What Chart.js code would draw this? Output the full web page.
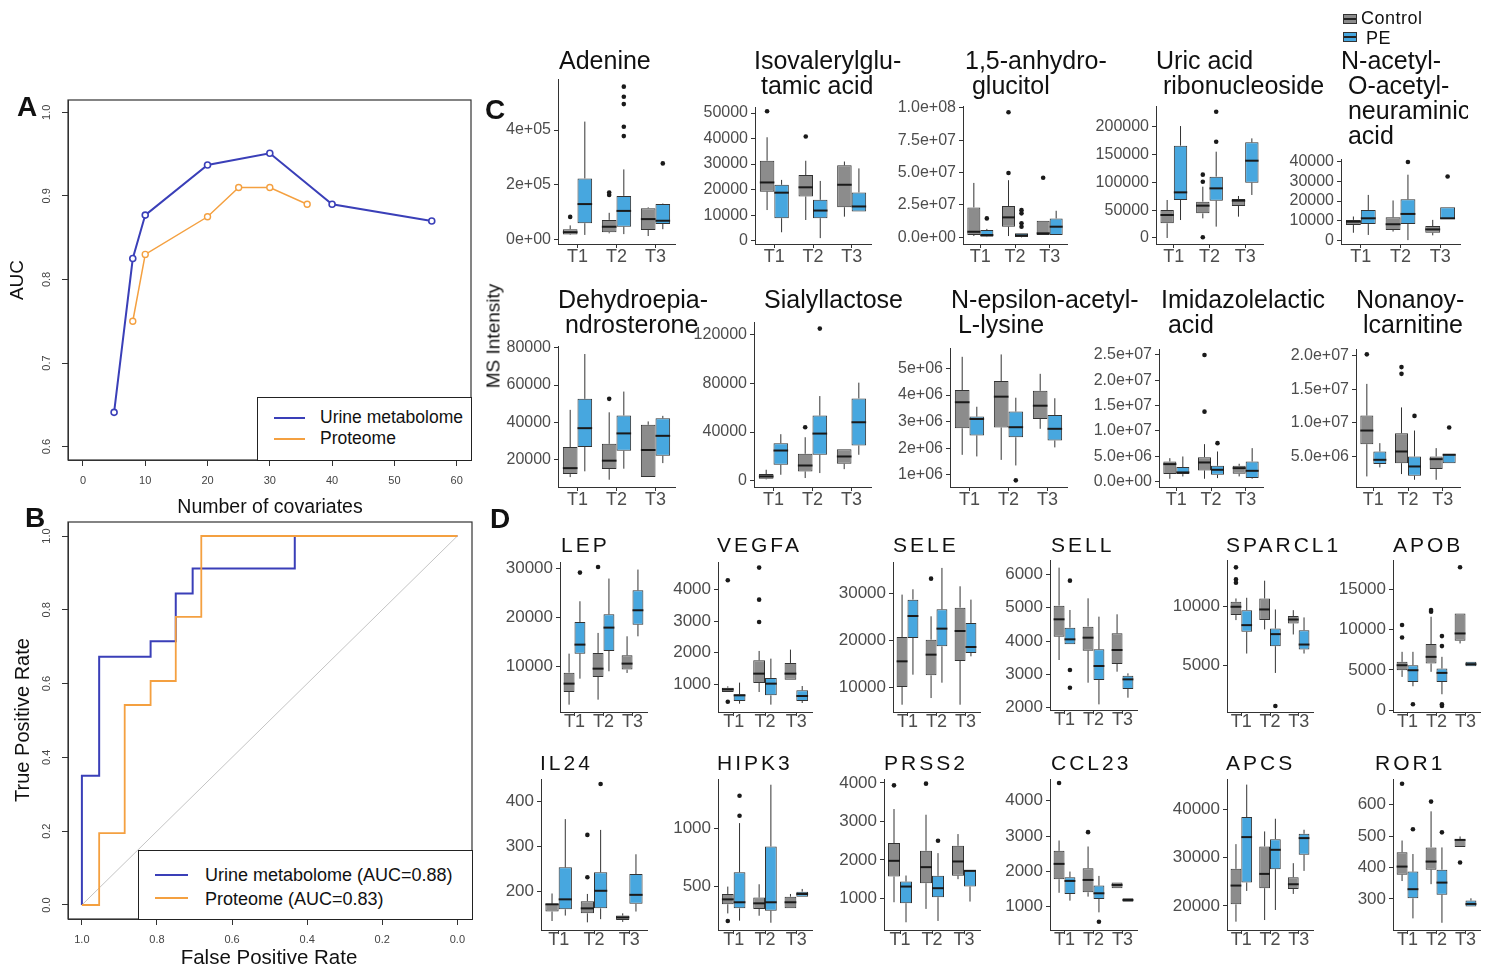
<!DOCTYPE html>
<html>
<head>
<meta charset="utf-8">
<title>AUC, ROC and MS intensity</title>
<script src="https://cdn.jsdelivr.net/npm/chart.js@4.4.1/dist/chart.umd.min.js"></script>
<style>
  html, body { margin: 0; padding: 0; background: #fff; }
  #stage { position: relative; width: 1488px; height: 969px; overflow: hidden; font-family: "Liberation Sans", Arial, sans-serif; color: #111; }
  .txt { position: absolute; white-space: pre; line-height: 1; }
  .tag { font-size: 28px; font-weight: bold; }
  .ctitle { font-size: 25px; line-height: 25px; }
  .dtitle { font-size: 21px; letter-spacing: 3px; }
  .rot { transform: translate(-50%, -50%) rotate(-90deg); }
  .legend { position: absolute; box-sizing: border-box; border: 1.3px solid #222; background: #fff; }
  .swatch { position: absolute; height: 2px; }
  .key { position: absolute; box-sizing: border-box; width: 14px; height: 10px; border: 1px solid #333; }
  .key::after { content: ""; position: absolute; left: 0; right: 0; top: 3px; height: 2px; background: #222; }
</style>
</head>
<body>
<div id="stage"></div>
<script>
// ---- panel A: AUC against number of covariates
const covariatesUrine = [5, 8, 10, 20, 30, 40, 56];
const aucUrine = [0.641, 0.825, 0.877, 0.937, 0.951, 0.890, 0.870];
const covariatesProteome = [8, 10, 20, 25, 30, 36];
const aucProteome = [0.750, 0.830, 0.875, 0.910, 0.910, 0.890];
const aTicksX = [0, 10, 20, 30, 40, 50, 60];
const aTicksY = [0.6, 0.7, 0.8, 0.9, 1.0];

// ---- panel B: ROC curves (x axis runs 1.0 -> 0.0)
const rocUrineX = [1.0, 1.0, 0.954, 0.954, 0.817, 0.817, 0.750, 0.750, 0.705, 0.705, 0.433, 0.433, 0.0];
const rocUrineY = [0.0, 0.350, 0.350, 0.673, 0.673, 0.715, 0.715, 0.844, 0.844, 0.912, 0.912, 1.0, 1.0];
const rocProteomeX = [1.0, 0.954, 0.954, 0.886, 0.886, 0.817, 0.817, 0.750, 0.750, 0.682, 0.682, 0.0];
const rocProteomeY = [0.0, 0.0, 0.195, 0.195, 0.542, 0.542, 0.607, 0.607, 0.781, 0.781, 1.0, 1.0];
const bTicks = [0, 0.2, 0.4, 0.6, 0.8, 1.0];

// ---- boxplots: each entry per time point is [lower whisker, Q1, median, Q3, upper whisker]
const timepoints = ['T1', 'T2', 'T3'];

const adenineCtrl = [[16000, 18000, 26000, 37000, 51000], [22000, 26000, 46000, 71000, 97000], [12000, 34000, 74000, 114000, 117000]];
const adenineCtrlOut = [[82000], [162000, 171000], []];
const adeninePE = [[16000, 59000, 129000, 223000, 431000], [19000, 46000, 104000, 159000, 256000], [37000, 56000, 68000, 129000, 131000]];
const adeninePEOut = [[], [378000, 412000, 495000, 522000, 559000], [278000]];
const adenineTicks = ['0e+00', '2e+05', '4e+05'];

const isovalCtrl = [[12000, 19200, 22800, 31300, 40500], [8100, 17300, 20900, 25700, 31300], [9400, 13100, 21900, 29500, 31000]];
const isovalCtrlOut = [[50700], [40800], []];
const isovalPE = [[3300, 8800, 18800, 21900, 23800], [1000, 8800, 11800, 16000, 23400], [11400, 11400, 13400, 18900, 28300]];
const isovalPEOut = [[], [], []];
const isovalTicks = ['0', '10000', '20000', '30000', '40000', '50000'];

const anhydroCtrl = [[1.0e6, 1.8e6, 4.3e6, 2.31e7, 4.2e7], [1.0e6, 8.2e6, 1.54e7, 2.41e7, 4.41e7], [1.8e6, 1.8e6, 3.1e6, 1.28e7, 1.28e7]];
const anhydroCtrlOut = [[], [4.97e7, 9.66e7], [4.6e7]];
const anhydroPE = [[2e5, 5e5, 1.8e6, 5.6e6, 6.5e6], [0, 3e5, 1.5e6, 3.1e6, 3.1e6], [1.8e6, 1.8e6, 8.2e6, 1.46e7, 2.05e7]];
const anhydroPEOut = [[1.46e7], [8.2e6, 1.08e7, 1.85e7, 2.1e7], []];
const anhydroTicks = ['0.0e+00', '2.5e+07', '5.0e+07', '7.5e+07', '1.0e+08'];

const uricCtrl = [[0, 26400, 41300, 50300, 68300], [35300, 44300, 58100, 65300, 92200], [38300, 57500, 67100, 70100, 75500]];
const uricCtrlOut = [[], [1200, 101200, 113800], []];
const uricPE = [[32300, 68300, 82000, 165900, 201200], [20400, 67100, 89200, 110200, 155100], [77300, 99400, 138900, 171900, 179000]];
const uricPEOut = [[], [173000, 227000], []];
const uricTicks = ['0', '50000', '100000', '150000', '200000'];

const neuCtrl = [[4000, 7900, 9600, 10500, 12200], [4600, 5400, 8300, 11800, 20300], [2700, 4000, 5700, 7400, 10500]];
const neuCtrlOut = [[], [], []];
const neuPE = [[2900, 8400, 11300, 15500, 23100], [300, 8400, 13500, 20900, 33300], [10800, 10800, 11300, 16900, 16900]];
const neuPEOut = [[], [39700], [32400]];
const neuTicks = ['0', '10000', '20000', '30000', '40000'];

const dheaCtrl = [[10700, 12300, 15500, 26800, 46700], [9300, 15000, 19500, 28500, 45400], [10700, 10700, 25200, 38700, 40500]];
const dheaCtrlOut = [[], [52600], []];
const dheaPE = [[13800, 26800, 36900, 52600, 76600], [15200, 24800, 34100, 43700, 56500], [18200, 22100, 32800, 42200, 43500]];
const dheaPEOut = [[], [], []];
const dheaTicks = ['20000', '40000', '60000', '80000'];

const sialylCtrl = [[1100, 1600, 3500, 5500, 9000], [2200, 7600, 12500, 22100, 35700], [9500, 13900, 19900, 25900, 25900]];
const sialylCtrlOut = [[], [43900], []];
const sialylPE = [[4900, 13100, 24800, 30800, 38200], [6300, 21300, 38700, 53500, 69500], [21300, 28900, 48000, 67600, 80500]];
const sialylPEOut = [[], [124900], []];
const sialylTicks = ['0', '40000', '80000', '120000'];

const lysineCtrl = [[1.75e6, 2.75e6, 3.73e6, 4.19e6, 5.44e6], [1.56e6, 2.78e6, 3.94e6, 4.53e6, 5.53e6], [2.73e6, 3.1e6, 3.6e6, 4.16e6, 4.8e6]];
const lysineCtrlOut = [[], [], []];
const lysinePE = [[1.69e6, 2.48e6, 3.1e6, 3.19e6, 3.56e6], [1.35e6, 2.41e6, 2.79e6, 3.38e6, 3.9e6], [2.03e6, 2.29e6, 2.73e6, 3.25e6, 3.88e6]];
const lysinePEOut = [[], [0.79e6], []];
const lysineTicks = ['1e+06', '2e+06', '3e+06', '4e+06', '5e+06'];

const imidCtrl = [[0.53e6, 1.45e6, 3.42e6, 3.95e6, 4.6e6], [0.53e6, 2.17e6, 3.75e6, 4.8e6, 7.37e6], [0.99e6, 1.51e6, 2.63e6, 3.09e6, 3.49e6]];
const imidCtrlOut = [[], [13.8e6, 25.0e6], []];
const imidPE = [[0.99e6, 1.45e6, 1.78e6, 2.83e6, 4.93e6], [0.66e6, 1.32e6, 2.3e6, 3.09e6, 5.92e6], [0.53e6, 0.66e6, 2.1e6, 3.95e6, 6.58e6]];
const imidPEOut = [[], [7.57e6], []];
const imidTicks = ['0.0e+00', '5.0e+06', '1.0e+07', '1.5e+07', '2.0e+07', '2.5e+07'];

const nonanoylCtrl = [[2.03e6, 6.83e6, 8.86e6, 11.09e6, 15.8e6], [2.38e6, 4.0e6, 5.74e6, 8.46e6, 12.3e6], [1.53e6, 3.12e6, 4.6e6, 5.0e6, 6.24e6]];
const nonanoylCtrlOut = [[20.2e6], [17.3e6, 18.3e6], []];
const nonanoylPE = [[3.37e6, 3.86e6, 4.5e6, 5.74e6, 6.98e6], [1.53e6, 2.13e6, 3.51e6, 5.0e6, 8.86e6], [4.0e6, 4.0e6, 5.25e6, 5.4e6, 5.4e6]];
const nonanoylPEOut = [[], [11.04e6], [9.3e6]];
const nonanoylTicks = ['5.0e+06', '1.0e+07', '1.5e+07', '2.0e+07'];

const lepCtrl = [[2150, 4740, 6450, 8700, 12590], [3170, 7810, 9520, 12730, 16830], [8640, 9320, 10550, 12250, 16140]];
const lepCtrlOut = [[], [30340], []];
const lepPE = [[7470, 12590, 14440, 19080, 23310], [8980, 13140, 17920, 20650, 27960], [16140, 18530, 21470, 25560, 29800]];
const lepPEOut = [[29180], [], []];
const lepTicks = ['10000', '20000', '30000'];

const vegfaCtrl = [[756, 756, 840, 893, 935], [756, 1042, 1338, 1761, 2057], [1148, 1148, 1338, 1676, 2099]];
const vegfaCtrlOut = [[450, 4295], [2975, 3682, 4696], []];
const vegfaPE = [[387, 472, 651, 683, 1053], [356, 651, 1021, 1201, 1813], [408, 472, 630, 810, 946]];
const vegfaPEOut = [[], [], []];
const vegfaTicks = ['1000', '2000', '3000', '4000'];

const seleCtrl = [[6210, 10000, 15500, 20710, 29790], [7640, 12500, 16930, 20140, 25140], [6210, 15570, 22000, 27000, 31570]];
const seleCtrlOut = [[], [33210], []];
const selePE = [[12640, 20500, 25210, 28710, 30930], [10930, 18710, 22500, 26640, 35500], [16570, 17290, 18570, 23710, 28710]];
const selePEOut = [[], [], []];
const seleTicks = ['10000', '20000', '30000'];

const sellCtrl = [[3430, 4130, 4650, 5060, 6200], [2750, 3710, 4100, 4430, 5280], [3080, 3310, 3730, 4230, 4800]];
const sellCtrlOut = [[], [], []];
const sellPE = [[3900, 3900, 4050, 4400, 4930], [2100, 2830, 3250, 3750, 4730], [2300, 2560, 2850, 2960, 3030]];
const sellPEOut = [[2600, 3130, 5810], [], []];
const sellTicks = ['2000', '3000', '4000', '5000', '6000'];

const sparclCtrl = [[8860, 9290, 10000, 10430, 10710], [8060, 8860, 9770, 10710, 12230], [7630, 8570, 8910, 9200, 9710]];
const sparclCtrlOut = [[12060, 12340, 13370], [], []];
const sparclPE = [[6000, 7860, 8430, 9710, 10770], [4340, 6630, 7660, 8140, 9770], [6000, 6340, 6770, 8000, 9090]];
const sparclPEOut = [[], [1510], []];
const sparclTicks = ['5000', '10000'];

const apobCtrl = [[4140, 4970, 5590, 6010, 7250], [4770, 5800, 6630, 8210, 11600], [8290, 8620, 9530, 12020, 12020]];
const apobCtrlOut = [[9030, 10570], [12220, 12430], [17740]];
const apobPE = [[2980, 3520, 4970, 5590, 7250], [1990, 3520, 4640, 5180, 6630], [5470, 5470, 5720, 6010, 6010]];
const apobPEOut = [[750], [540, 750, 7960, 9200], []];
const apobTicks = ['0', '5000', '10000', '15000'];

const il24Ctrl = [[135, 156, 172, 173, 196], [132, 152, 163, 179, 195], [133, 137, 143, 147, 152]];
const il24CtrlOut = [[], [232, 326], []];
const il24PE = [[147, 161, 183, 254, 361], [139, 163, 202, 243, 337], [156, 173, 193, 239, 283]];
const il24PEOut = [[], [439], []];
const il24Ticks = ['200', '300', '400'];

const hipk3Ctrl = [[271, 349, 391, 437, 500], [251, 309, 357, 406, 520], [314, 314, 366, 414, 437]];
const hipk3CtrlOut = [[206], [], []];
const hipk3PE = [[209, 314, 366, 623, 1043], [191, 294, 366, 843, 1371], [414, 414, 437, 457, 480]];
const hipk3PEOut = [[1106, 1277], [], []];
const hipk3Ticks = ['500', '1000'];

const prss2Ctrl = [[896, 1565, 1974, 2435, 3322], [722, 1391, 1809, 2235, 3174], [1496, 1583, 1957, 2365, 2670]];
const prss2CtrlOut = [[3939], [3983], []];
const prss2PE = [[374, 870, 1304, 1435, 1591], [409, 1026, 1261, 1583, 2174], [913, 1304, 1713, 1722, 1722]];
const prss2PEOut = [[], [2496], []];
const prss2Ticks = ['1000', '2000', '3000', '4000'];

const ccl23Ctrl = [[1393, 1777, 2212, 2581, 2874], [1284, 1407, 1757, 2089, 2704], [1521, 1521, 1615, 1682, 1682]];
const ccl23CtrlOut = [[4502], [3111], []];
const ccl23PE = [[1171, 1360, 1729, 1833, 1994], [839, 1218, 1379, 1597, 1871], [1142, 1142, 1190, 1237, 1237]];
const ccl23PEOut = [[], [574], []];
const ccl23Ticks = ['1000', '2000', '3000', '4000'];

const apcsCtrl = [[16760, 20340, 24210, 27660, 32760], [17100, 23660, 26620, 32280, 35380], [22480, 23520, 24480, 25930, 28830]];
const apcsCtrlOut = [[], [], []];
const apcsPE = [[23100, 24830, 34210, 38350, 45040], [19170, 27590, 31590, 33790, 38000], [27240, 30550, 34000, 34900, 35730]];
const apcsPEOut = [[], [], []];
const apcsTicks = ['20000', '30000', '40000'];

const ror1Ctrl = [[357, 377, 403, 449, 486], [347, 393, 419, 464, 579], [465, 465, 488, 490, 499]];
const ror1CtrlOut = [[667], [610], [416]];
const ror1PE = [[238, 302, 331, 387, 443], [224, 313, 352, 393, 464], [276, 276, 284, 295, 302]];
const ror1PEOut = [[522], [512], []];
const ror1Ticks = ['300', '400', '500', '600'];

// ---- styling
const GREY = '#8c8c8c';
const BLUE = '#47a7df';
const NAVY = '#3a3fb8';
const ORANGE = '#f4a040';
const FONT = '"Liberation Sans", Arial, sans-serif';
Chart.defaults.font.family = FONT;

const stage = document.getElementById('stage');

function addCanvas(left, top, w, h) {
  const c = document.createElement('canvas');
  c.width = w; c.height = h;
  c.style.cssText = `position:absolute;left:${left}px;top:${top}px;width:${w}px;height:${h}px;`;
  stage.appendChild(c);
  return c;
}

function addText(text, cls, left, top, extra) {
  const d = document.createElement('div');
  d.className = 'txt ' + cls;
  d.textContent = text;
  d.style.left = left + 'px';
  d.style.top = top + 'px';
  if (extra) Object.assign(d.style, extra);
  stage.appendChild(d);
  return d;
}

// rotated y tick labels, R style
const rotY = {
  id: 'rotY',
  afterDraw(chart, args, opts) {
    const s = chart.scales.y, ctx = chart.ctx;
    ctx.save();
    ctx.font = '11px ' + FONT;
    ctx.fillStyle = '#444';
    ctx.textAlign = 'center';
    ctx.textBaseline = 'middle';
    s.ticks.forEach(t => {
      ctx.save();
      ctx.translate(chart.chartArea.left - opts.offset, s.getPixelForValue(t.value));
      ctx.rotate(-Math.PI / 2);
      ctx.fillText(t.value.toFixed(1), 0, 0);
      ctx.restore();
    });
    ctx.restore();
  }
};

const frame = {
  id: 'frame',
  afterDraw(chart) {
    const a = chart.chartArea, ctx = chart.ctx;
    ctx.save();
    ctx.strokeStyle = '#333';
    ctx.lineWidth = 1.2;
    ctx.strokeRect(a.left, a.top, a.right - a.left, a.bottom - a.top);
    ctx.restore();
  }
};

function rAxes(xMin, xMax, xTicks, yMin, yMax, yTicks, reverse, xFmt) {
  return {
    x: {
      type: 'linear', min: xMin, max: xMax, reverse: reverse,
      afterBuildTicks: s => { s.ticks = xTicks.map(v => ({ value: v })); },
      ticks: { font: { size: 11 }, color: '#444', padding: 8, maxRotation: 0, autoSkip: false, callback: xFmt },
      grid: { drawOnChartArea: false, tickLength: 6, tickColor: '#333' },
      border: { color: '#333' },
      afterFit: s => { s.height = 38; s.paddingLeft = 0; s.paddingRight = 0; }
    },
    y: {
      type: 'linear', min: yMin, max: yMax,
      afterBuildTicks: s => { s.ticks = yTicks.map(v => ({ value: v })); },
      ticks: { display: false },
      grid: { drawOnChartArea: false, tickLength: 6, tickColor: '#333' },
      border: { color: '#333' },
      afterFit: s => { s.width = 68; s.paddingTop = 0; s.paddingBottom = 0; }
    }
  };
}

// ---- panel A
new Chart(addCanvas(0, 88, 485, 410), {
  type: 'line',
  data: {
    datasets: [
      { label: 'Urine metabolome', data: covariatesUrine.map((x, i) => ({ x, y: aucUrine[i] })),
        borderColor: NAVY, borderWidth: 2, pointRadius: 3, pointBorderWidth: 1.6,
        pointBackgroundColor: '#fff', pointBorderColor: NAVY, tension: 0 },
      { label: 'Proteome', data: covariatesProteome.map((x, i) => ({ x, y: aucProteome[i] })),
        borderColor: ORANGE, borderWidth: 1.5, pointRadius: 3, pointBorderWidth: 1.4,
        pointBackgroundColor: '#fff', pointBorderColor: ORANGE, tension: 0 }
    ]
  },
  options: {
    responsive: false, animation: false, events: [],
    layout: { padding: { top: 12, right: 14, left: 0, bottom: 0 } },
    plugins: { legend: { display: false }, tooltip: { enabled: false }, rotY: { offset: 21 } },
    scales: rAxes(-2.4, 62.3, aTicksX, 0.584, 1.0147, aTicksY, false, v => String(v))
  },
  plugins: [rotY, frame]
});

// ---- panel B
new Chart(addCanvas(0, 510, 486, 447), {
  type: 'line',
  data: {
    datasets: [
      { label: 'Proteome (AUC=0.83)', order: 0, data: rocProteomeX.map((x, i) => ({ x, y: rocProteomeY[i] })),
        borderColor: ORANGE, borderWidth: 1.8, pointRadius: 0, tension: 0 },
      { label: 'Urine metabolome (AUC=0.88)', order: 1, data: rocUrineX.map((x, i) => ({ x, y: rocUrineY[i] })),
        borderColor: NAVY, borderWidth: 2, pointRadius: 0, tension: 0 },
      { label: 'chance', order: 2, data: [{ x: 1, y: 0 }, { x: 0, y: 1 }],
        borderColor: '#c4c4c4', borderWidth: 1, pointRadius: 0 }
    ]
  },
  options: {
    responsive: false, animation: false, events: [],
    layout: { padding: { top: 12, right: 14, left: 0, bottom: 0 } },
    plugins: { legend: { display: false }, tooltip: { enabled: false }, rotY: { offset: 21 } },
    scales: rAxes(-0.039, 1.037, bTicks, -0.038, 1.038, bTicks, true, v => v.toFixed(1))
  },
  plugins: [rotY, frame]
});

// ---- boxplot drawing on top of floating bars (Q1..Q3)
const boxPlugin = {
  id: 'boxStats',
  beforeDatasetsDraw(chart) {
    const ctx = chart.ctx, ys = chart.scales.y;
    ctx.save();
    ctx.strokeStyle = '#333';
    ctx.lineWidth = 1;
    chart.data.datasets.forEach((ds, i) => {
      chart.getDatasetMeta(i).data.forEach((el, j) => {
        const s = ds.stats[j];
        ctx.beginPath();
        ctx.moveTo(el.x, ys.getPixelForValue(s[0]));
        ctx.lineTo(el.x, ys.getPixelForValue(s[1]));
        ctx.moveTo(el.x, ys.getPixelForValue(s[3]));
        ctx.lineTo(el.x, ys.getPixelForValue(s[4]));
        ctx.stroke();
      });
    });
    ctx.restore();
  },
  afterDatasetsDraw(chart) {
    const ctx = chart.ctx, ys = chart.scales.y;
    ctx.save();
    chart.data.datasets.forEach((ds, i) => {
      chart.getDatasetMeta(i).data.forEach((el, j) => {
        const half = el.width / 2;
        const ym = ys.getPixelForValue(ds.stats[j][2]);
        ctx.strokeStyle = '#1a1a1a';
        ctx.lineWidth = 2;
        ctx.beginPath();
        ctx.moveTo(el.x - half, ym);
        ctx.lineTo(el.x + half, ym);
        ctx.stroke();
        ctx.fillStyle = '#1a1a1a';
        ds.outliers[j].forEach(v => {
          ctx.beginPath();
          ctx.arc(el.x, ys.getPixelForValue(v), 2.3, 0, Math.PI * 2);
          ctx.fill();
        });
      });
    });
    ctx.restore();
  }
};

function boxChart(p, row) {
  const yW = 80, xH = 28, pad = 12;
  const x0 = Math.round(p.box[0]), y0 = Math.round(p.box[1]);
  const x1 = Math.round(p.box[2]), y1 = Math.round(p.box[3]);
  const cv = addCanvas(x0 - yW, y0 - pad, x1 - x0 + yW + pad, y1 - y0 + xH + pad);
  const tickValues = p.ticks.map(Number);
  const series = (label, stats, out, color) => ({
    label, data: stats.map(s => [s[1], s[3]]), stats, outliers: out,
    backgroundColor: color, borderColor: '#333', borderWidth: 1, borderSkipped: false,
    categoryPercentage: 0.75, barPercentage: 1
  });
  new Chart(cv, {
    type: 'bar',
    data: {
      labels: timepoints,
      datasets: [series('Control', p.ctrl, p.ctrlOut, GREY), series('PE', p.pe, p.peOut, BLUE)]
    },
    options: {
      responsive: false, animation: false, events: [],
      layout: { padding: { top: pad, right: pad, left: 0, bottom: 0 } },
      plugins: { legend: { display: false }, tooltip: { enabled: false } },
      scales: {
        x: {
          grid: { drawOnChartArea: false, offset: false, tickLength: 4, tickColor: '#333' },
          border: { color: '#333' },
          ticks: { font: { size: 18, lineHeight: 1 }, color: '#4d4d4d', padding: row.xPad, maxRotation: 0, autoSkip: false },
          afterFit: s => { s.height = xH; s.paddingLeft = 0; s.paddingRight = 0; }
        },
        y: {
          min: p.y[0], max: p.y[1], beginAtZero: false,
          afterBuildTicks: s => { s.ticks = tickValues.map(v => ({ value: v })); },
          ticks: { callback: (v, i) => p.ticks[i], font: { size: row.yFont }, color: '#4d4d4d', padding: 3, autoSkip: false },
          grid: { drawOnChartArea: false, tickLength: 4, tickColor: '#333' },
          border: { color: '#333' },
          afterFit: s => { s.width = yW; s.paddingTop = 0; s.paddingBottom = 0; }
        }
      }
    },
    plugins: [boxPlugin]
  });
  const t = addText(p.title, row.cls, p.tx, row.titleTop);
  if (p.clip) { t.style.width = p.clip + 'px'; t.style.overflow = 'hidden'; }
}

const rowC1 = { cls: 'ctitle', titleTop: 47.7, xPad: 0, yFont: 16 };
const rowC2 = { cls: 'ctitle', titleTop: 286.7, xPad: 0, yFont: 16 };
const rowD1 = { cls: 'dtitle', titleTop: 534, xPad: -3, yFont: 17 };
const rowD2 = { cls: 'dtitle', titleTop: 752.3, xPad: -2.5, yFont: 17 };

[
  { title: 'Adenine', tx: 559, ctrl: adenineCtrl, ctrlOut: adenineCtrlOut, pe: adeninePE, peOut: adeninePEOut, ticks: adenineTicks, y: [-17200, 587000], box: [558, 79, 675, 244] },
  { title: 'Isovalerylglu-\n tamic acid', tx: 754, ctrl: isovalCtrl, ctrlOut: isovalCtrlOut, pe: isovalPE, peOut: isovalPEOut, ticks: isovalTicks, y: [-1300, 52350], box: [755, 107, 871, 244] },
  { title: '1,5-anhydro-\n glucitol', tx: 965, ctrl: anhydroCtrl, ctrlOut: anhydroCtrlOut, pe: anhydroPE, peOut: anhydroPEOut, ticks: anhydroTicks, y: [-5.15e6, 1.014e8], box: [963, 106, 1067, 244] },
  { title: 'Uric acid\n ribonucleoside', tx: 1156, ctrl: uricCtrl, ctrlOut: uricCtrlOut, pe: uricPE, peOut: uricPEOut, ticks: uricTicks, y: [-10800, 237200], box: [1156, 106, 1263, 244] },
  { title: 'N-acetyl-\n O-acetyl-\n neuraminic\n acid', tx: 1341, clip: 127, ctrl: neuCtrl, ctrlOut: neuCtrlOut, pe: neuPE, peOut: neuPEOut, ticks: neuTicks, y: [-1670, 41220], box: [1341, 159, 1460, 244] }
].forEach(p => boxChart(p, rowC1));

[
  { title: 'Dehydroepia-\n ndrosterone', tx: 558, ctrl: dheaCtrl, ctrlOut: dheaCtrlOut, pe: dheaPE, peOut: dheaPEOut, ticks: dheaTicks, y: [5400, 80900], box: [558, 346, 675, 487] },
  { title: 'Sialyllactose', tx: 764, ctrl: sialylCtrl, ctrlOut: sialylCtrlOut, pe: sialylPE, peOut: sialylPEOut, ticks: sialylTicks, y: [-5150, 130300], box: [754, 322, 871, 487] },
  { title: 'N-epsilon-acetyl-\n L-lysine', tx: 951, ctrl: lysineCtrl, ctrlOut: lysineCtrlOut, pe: lysinePE, peOut: lysinePEOut, ticks: lysineTicks, y: [539000, 5772000], box: [950, 348, 1067, 487] },
  { title: 'Imidazolelactic\n acid', tx: 1161, ctrl: imidCtrl, ctrlOut: imidCtrlOut, pe: imidPE, peOut: imidPEOut, ticks: imidTicks, y: [-1.1e6, 2.618e7], box: [1159, 349, 1263, 487] },
  { title: 'Nonanoy-\n lcarnitine', tx: 1356, ctrl: nonanoylCtrl, ctrlOut: nonanoylCtrlOut, pe: nonanoylPE, peOut: nonanoylPEOut, ticks: nonanoylTicks, y: [455000, 20995000], box: [1356, 349, 1460, 487] }
].forEach(p => boxChart(p, rowC2));

[
  { title: 'LEP', tx: 561, ctrl: lepCtrl, ctrlOut: lepCtrlOut, pe: lepPE, peOut: lepPEOut, ticks: lepTicks, y: [645, 31350], box: [560, 562, 647, 712] },
  { title: 'VEGFA', tx: 717, ctrl: vegfaCtrl, ctrlOut: vegfaCtrlOut, pe: vegfaPE, peOut: vegfaPEOut, ticks: vegfaTicks, y: [123, 4874], box: [718, 562, 812, 712] },
  { title: 'SELE', tx: 893, ctrl: seleCtrl, ctrlOut: seleCtrlOut, pe: selePE, peOut: selePEOut, ticks: seleTicks, y: [4650, 36770], box: [893, 562, 980, 712] },
  { title: 'SELL', tx: 1051, ctrl: sellCtrl, ctrlOut: sellCtrlOut, pe: sellPE, peOut: sellPEOut, ticks: sellTicks, y: [1931, 6429], box: [1050, 560, 1137, 710] },
  { title: 'SPARCL1', tx: 1226, ctrl: sparclCtrl, ctrlOut: sparclCtrlOut, pe: sparclPE, peOut: sparclPEOut, ticks: sparclTicks, y: [1000, 14000], box: [1227, 560, 1313, 712] },
  { title: 'APOB', tx: 1393, ctrl: apobCtrl, ctrlOut: apobCtrlOut, pe: apobPE, peOut: apobPEOut, ticks: apobTicks, y: [-211, 18640], box: [1393, 560, 1480, 712] }
].forEach(p => boxChart(p, rowD1));

[
  { title: 'IL24', tx: 540, ctrl: il24Ctrl, ctrlOut: il24CtrlOut, pe: il24PE, peOut: il24PEOut, ticks: il24Ticks, y: [115, 450], box: [541, 779, 647, 930] },
  { title: 'HIPK3', tx: 717, ctrl: hipk3Ctrl, ctrlOut: hipk3CtrlOut, pe: hipk3PE, peOut: hipk3PEOut, ticks: hipk3Ticks, y: [129, 1420], box: [718, 779, 812, 930] },
  { title: 'PRSS2', tx: 884, ctrl: prss2Ctrl, ctrlOut: prss2CtrlOut, pe: prss2PE, peOut: prss2PEOut, ticks: prss2Ticks, y: [173, 4104], box: [884, 779, 980, 930] },
  { title: 'CCL23', tx: 1051, ctrl: ccl23Ctrl, ctrlOut: ccl23CtrlOut, pe: ccl23PE, peOut: ccl23PEOut, ticks: ccl23Ticks, y: [339, 4616], box: [1050, 779, 1137, 930] },
  { title: 'APCS', tx: 1226, ctrl: apcsCtrl, ctrlOut: apcsCtrlOut, pe: apcsPE, peOut: apcsPEOut, ticks: apcsTicks, y: [15040, 46200], box: [1227, 779, 1313, 930] },
  { title: 'ROR1', tx: 1375, ctrl: ror1Ctrl, ctrlOut: ror1CtrlOut, pe: ror1PE, peOut: ror1PEOut, ticks: ror1Ticks, y: [201, 682], box: [1393, 779, 1480, 930] }
].forEach(p => boxChart(p, rowD2));

// ---- panel letters and axis titles
addText('A', 'tag', 17, 93);
addText('B', 'tag', 25, 504);
addText('C', 'tag', 485, 96);
addText('D', 'tag', 490, 505);
addText('AUC', 'rot', 16, 280, { fontSize: '19px' });
addText('Number of covariates', '', 270, 496.5, { fontSize: '19.5px', transform: 'translateX(-50%)' });
addText('True Positive Rate', 'rot', 22, 720, { fontSize: '20px' });
addText('False Positive Rate', '', 269, 947.3, { fontSize: '20.5px', transform: 'translateX(-50%)' });
addText('MS Intensity', 'rot', 493, 336, { fontSize: '19px' });

// ---- legends
function legendBox(left, top, w, h) {
  const d = document.createElement('div');
  d.className = 'legend';
  Object.assign(d.style, { left: left + 'px', top: top + 'px', width: w + 'px', height: h + 'px' });
  stage.appendChild(d);
}
function swatch(left, top, w, color) {
  const d = document.createElement('div');
  d.className = 'swatch';
  Object.assign(d.style, { left: left + 'px', top: top + 'px', width: w + 'px', background: color });
  stage.appendChild(d);
}
legendBox(257, 397, 215, 64);
swatch(274, 417, 31, NAVY);
swatch(274, 438, 31, ORANGE);
addText('Urine metabolome', '', 320, 409.4, { fontSize: '17.5px' });
addText('Proteome', '', 320, 430.4, { fontSize: '17.5px' });

legendBox(138, 850, 335, 70);
swatch(155, 874, 33, NAVY);
swatch(155, 897, 33, ORANGE);
addText('Urine metabolome (AUC=0.88)', '', 205, 866.2, { fontSize: '18px' });
addText('Proteome (AUC=0.83)', '', 205, 889.5, { fontSize: '18px' });

function key(left, top, color) {
  const d = document.createElement('div');
  d.className = 'key';
  Object.assign(d.style, { left: left + 'px', top: top + 'px', background: color });
  stage.appendChild(d);
}
key(1343, 14, GREY);
key(1343, 32, BLUE);
addText('Control', '', 1361, 9, { fontSize: '18px', letterSpacing: '0.5px' });
addText('PE', '', 1366, 28.7, { fontSize: '18px', letterSpacing: '0.5px' });
</script>
</body>
</html>
